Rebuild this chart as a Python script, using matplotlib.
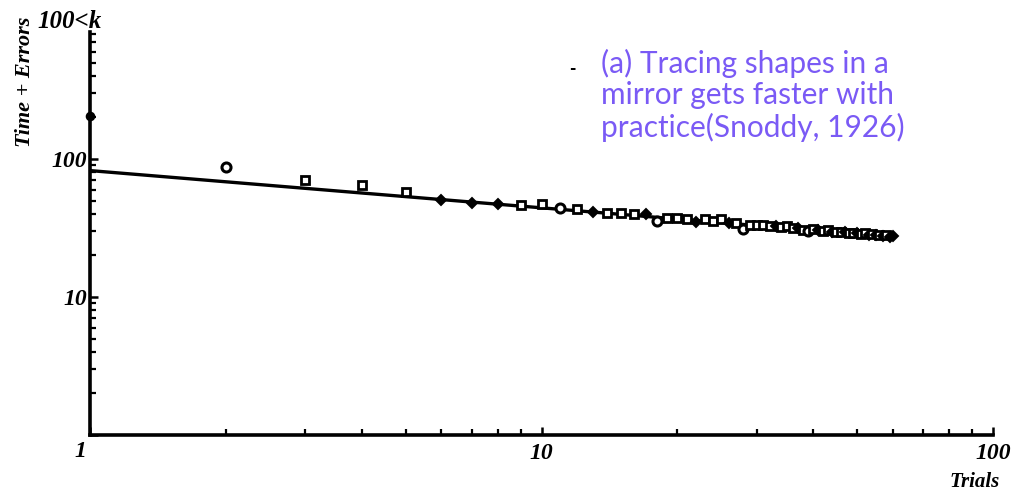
import matplotlib
matplotlib.use("Agg")
import matplotlib.pyplot as plt
from matplotlib.ticker import LogLocator, NullFormatter, FixedLocator, FixedFormatter

# Snoddy (1926) mirror-tracing data: time + errors per trial
trials = list(range(1, 61))
time_errors = [206, 88, 70.4, 64.8, 57.4, 50.5, 47.8, 47.0, 46.2, 47.0,
               43.9, 43.2, 41.1, 40.4, 40.4, 39.9, 39.9, 35.7, 37.2, 37.6,
               36.6, 35.1, 37.0, 35.7, 36.6, 34.5, 34.5, 31.0, 33.5, 33.3,
               33.2, 32.8, 32.6, 32.0, 32.5, 31.4, 31.8, 30.8, 30.2, 31.0,
               30.6, 30.0, 30.4, 29.6, 29.8, 29.4, 29.6, 29.0, 29.3, 28.9,
               28.7, 28.9, 28.3, 28.6, 28.0, 28.2, 27.6, 27.9, 27.4, 27.8]

# power-law fit, drawn between its end points
fit_x = [1, 60]
fit_y = [82.4, 27.3]

x_ticks = [1, 10, 100]
x_tick_labels = ["", "10", "100"]
y_ticks = [1, 10, 100]
y_tick_labels = ["", "10", "100"]

# trials plotted with solid markers; the rest are hollow squares
solid_trials = {1, 6, 7, 8, 13, 17, 22, 26, 33, 37, 41, 44, 47, 50, 53, 55, 57, 59, 60}
circle_trials = {2, 11, 18, 28, 39}

W, H = 1035, 498
fig = plt.figure(figsize=(W / 100, H / 100), dpi=100)
ax = fig.add_axes([90 / W, (H - 435) / H, (993 - 90) / W, (435 - 32) / H])

ax.set_xscale("log")
ax.set_yscale("log")
ax.set_xlim(1, 100)
ax.set_ylim(1, 832)

ax.plot(fit_x, fit_y, color="black", lw=2.4, solid_capstyle="butt", zorder=2)

for t, v in zip(trials, time_errors):
    if t in solid_trials:
        ax.plot(t, v, marker="D" if t > 1 else "o", ms=5.5, mfc="black", mec="black",
                mew=1.4, ls="none", zorder=3, clip_on=False)
    elif t in circle_trials:
        ax.plot(t, v, marker="o", ms=6.5, mfc="white", mec="black", mew=2.2,
                ls="none", zorder=3)
    else:
        ax.plot(t, v, marker="s", ms=6, mfc="white", mec="black", mew=2.0,
                ls="none", zorder=3)

for side in ("top", "right"):
    ax.spines[side].set_visible(False)
for side in ("left", "bottom"):
    ax.spines[side].set_linewidth(2.6)
    ax.spines[side].set_color("black")

tick_font = dict(family="Liberation Serif", weight="bold", style="italic", size=17)

ax.xaxis.set_major_locator(FixedLocator(x_ticks))
ax.xaxis.set_major_formatter(FixedFormatter(x_tick_labels))
ax.yaxis.set_major_locator(FixedLocator(y_ticks))
ax.yaxis.set_major_formatter(FixedFormatter(y_tick_labels))
ax.xaxis.set_minor_locator(LogLocator(base=10, subs=range(2, 10)))
ax.yaxis.set_minor_locator(LogLocator(base=10, subs=range(2, 10)))
ax.xaxis.set_minor_formatter(NullFormatter())
ax.yaxis.set_minor_formatter(NullFormatter())
ax.tick_params(which="major", direction="in", length=6, width=1.8, pad=6)
ax.tick_params(which="minor", direction="in", length=4, width=1.6)
ax.tick_params(axis="y", which="major", pad=2)
for lab in ax.get_xticklabels() + ax.get_yticklabels():
    lab.set_fontfamily(tick_font["family"])
    lab.set_fontweight(tick_font["weight"])
    lab.set_fontstyle(tick_font["style"])
    lab.set_fontsize(tick_font["size"])

# corner and top-of-axis labels
fig.text(80 / W, 1 - 451 / H, "1", ha="center", va="center", **tick_font)
fig.text(102 / W, 1 - 22 / H, "100<k", ha="right", va="center",
         family="Liberation Serif", weight="bold", style="italic", size=18)

fig.text(1000 / W, 1 - 482 / H, "Trials", ha="right", va="center",
         family="Liberation Serif", weight="bold", style="italic", size=15)
fig.text(25 / W, 1 - 82 / H, "Time + Errors", rotation=90, ha="center", va="center",
         family="Liberation Serif", weight="bold", style="italic", size=16)

fig.text(572 / W, 1 - 68 / H, "-", ha="center", va="center", color="black",
         family="DejaVu Sans", size=11, weight="bold")
fig.text(601 / W, 1 - 49 / H,
         "(a) Tracing shapes in a\nmirror gets faster with\npractice(Snoddy, 1926)",
         ha="left", va="top", color="#7a5af5", family="Lato", size=21.5,
         linespacing=1.14)

fig.savefig("out.png", dpi=100, facecolor="white")
